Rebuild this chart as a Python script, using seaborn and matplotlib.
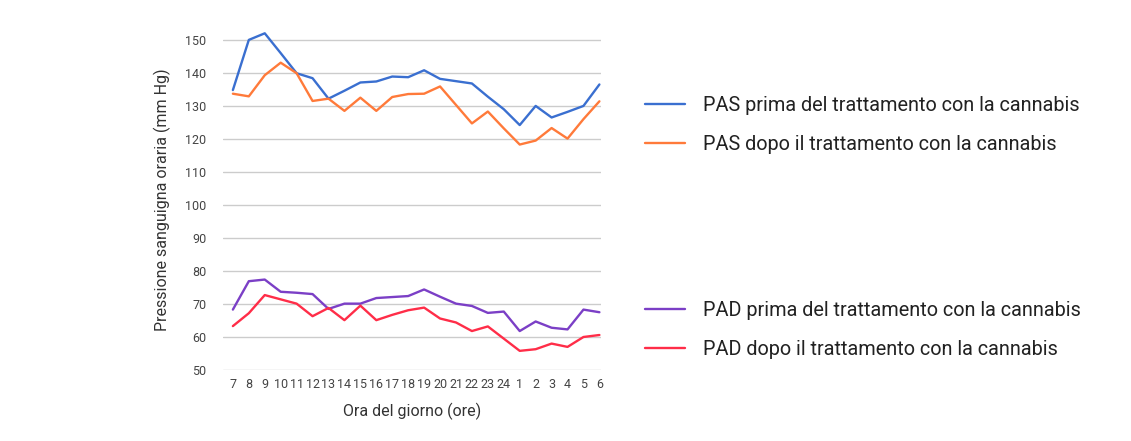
import matplotlib
matplotlib.use("Agg")
import matplotlib.pyplot as plt
import seaborn as sns
import pandas as pd
from matplotlib.lines import Line2D

hours = ["7", "8", "9", "10", "11", "12", "13", "14", "15", "16", "17", "18",
         "19", "20", "21", "22", "23", "24", "1", "2", "3", "4", "5", "6"]

pas_prima = [134.8, 150.0, 152.0, 146.0, 139.9, 138.4, 132.2, 134.6, 137.1, 137.4, 138.9, 138.7,
             140.8, 138.2, 137.5, 136.8, 132.8, 129.0, 124.2, 130.0, 126.5, 128.2, 130.0, 136.5]
pas_dopo = [133.7, 132.9, 139.3, 143.1, 139.9, 131.5, 132.2, 128.5, 132.5, 128.5, 132.7, 133.6,
            133.7, 135.9, 130.3, 124.7, 128.3, 123.2, 118.3, 119.5, 123.3, 120.1, 126.0, 131.4]
pad_prima = [68.3, 76.9, 77.4, 73.7, 73.4, 73.0, 68.5, 70.1, 70.1, 71.8, 72.1, 72.4,
             74.4, 72.2, 70.1, 69.4, 67.3, 67.7, 61.8, 64.7, 62.8, 62.3, 68.3, 67.5]
pad_dopo = [63.3, 67.2, 72.7, 71.4, 70.1, 66.3, 68.8, 65.1, 69.5, 65.1, 66.7, 68.1,
            68.9, 65.6, 64.4, 61.8, 63.2, 59.5, 55.8, 56.3, 58.0, 57.0, 60.0, 60.6]

series_names = ["PAS prima del trattamento con la cannabis",
                "PAS dopo il trattamento con la cannabis",
                "PAD prima del trattamento con la cannabis",
                "PAD dopo il trattamento con la cannabis"]
colors = ["#3a6fd0", "#ff7a3a", "#7b3fc6", "#ff2d48"]

rows = []
for name, vals in zip(series_names, [pas_prima, pas_dopo, pad_prima, pad_dopo]):
    for h, v in zip(hours, vals):
        rows.append({"ora": h, "valore": v, "serie": name})
df = pd.DataFrame(rows)

sns.set_theme(style="white")
plt.rcParams['font.family'] = ['Roboto', 'DejaVu Sans']

fig = plt.figure(figsize=(11.31, 4.41), dpi=100)
ax = fig.add_axes([223/1131, 1-370/441, (601-223)/1131, (370-30)/441])

sns.lineplot(data=df, x="ora", y="valore", hue="serie", palette=colors,
             hue_order=series_names, sort=False, linewidth=1.7, ax=ax, legend=False)

ax.set_ylim(50, 153)
ax.set_xlim(-0.62, 23.1)
ax.set_yticks(range(50, 151, 10))
ax.yaxis.grid(True, color="#cccccc", linewidth=1)
ax.xaxis.grid(False)
for s in ax.spines.values():
    s.set_visible(False)
ax.tick_params(axis="both", labelsize=9, colors="#444444", length=0)
ax.tick_params(axis="y", pad=12)
ax.tick_params(axis="x", pad=6)
ax.set_xlabel("Ora del giorno (ore)", fontsize=11.5, color="#333333", labelpad=8)
ax.set_ylabel("Pressione sanguigna oraria (mm Hg)", fontsize=11.5, color="#333333", labelpad=10)

def handles(idx):
    return [Line2D([0], [0], color=colors[i], linewidth=1.7) for i in idx]

common = dict(loc="upper left", frameon=False, fontsize=14.3,
              handlelength=2.0, handletextpad=0.95, labelspacing=1.0,
              labelcolor="#222222")
fig.legend(handles([0, 1]), series_names[:2],
           bbox_to_anchor=(627/1131, 1-78/441), **common)
fig.legend(handles([2, 3]), series_names[2:],
           bbox_to_anchor=(627/1131, 1-283/441), **common)

fig.savefig("out.png", dpi=100, facecolor="white")
